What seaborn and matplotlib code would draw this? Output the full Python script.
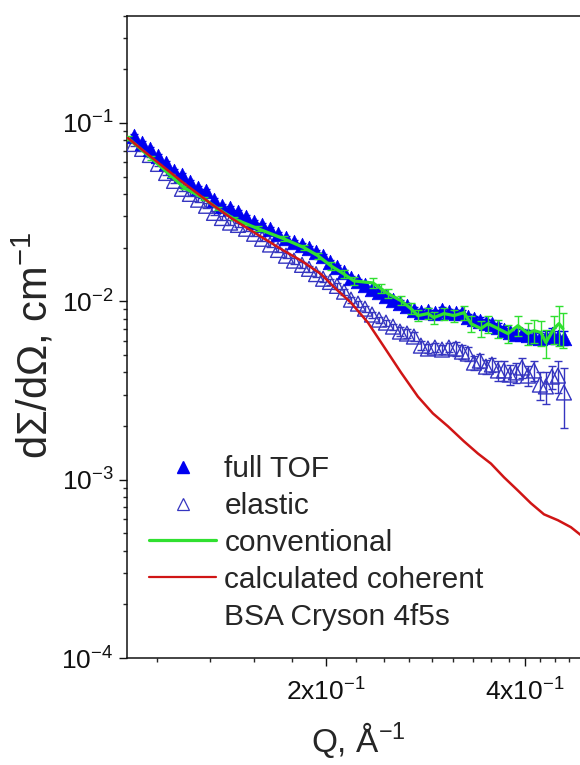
import matplotlib
matplotlib.use("Agg")
import matplotlib.pyplot as plt
import matplotlib.ticker as mticker
from matplotlib.lines import Line2D
import seaborn as sns
import pandas as pd

# ---------------- data ----------------
q_tof = [0.1025, 0.1054, 0.1083, 0.1114, 0.1146, 0.1178, 0.1211, 0.1245, 0.1281, 0.1317,
         0.1354, 0.1392, 0.1432, 0.1472, 0.1514, 0.1557, 0.1601, 0.1646, 0.1692, 0.1740,
         0.1789, 0.1840, 0.1885, 0.1932, 0.1980, 0.2028, 0.2078, 0.2130, 0.2182, 0.2236,
         0.2291, 0.2348, 0.2406, 0.2465, 0.2526, 0.2588, 0.2652, 0.2717, 0.2784, 0.2853,
         0.2923, 0.2996, 0.3069, 0.3145, 0.3212, 0.3279, 0.3349, 0.3419, 0.3492, 0.3565,
         0.3641, 0.3718, 0.3796, 0.3876, 0.3958, 0.4042, 0.4127, 0.4214, 0.4303, 0.4394,
         0.4487, 0.4582]

full_tof = [0.0845, 0.0772, 0.0715, 0.0653, 0.0596, 0.0538, 0.0511, 0.0467, 0.0433, 0.0416,
            0.0371, 0.0343, 0.0334, 0.0317, 0.0297, 0.0279, 0.0268, 0.0255, 0.0239, 0.0227,
            0.0215, 0.0208, 0.0200, 0.0190, 0.0180, 0.0167, 0.0156, 0.0146, 0.0135, 0.0130,
            0.0124, 0.01174, 0.01132, 0.01075, 0.01021, 0.00982, 0.00945, 0.00897, 0.00875, 0.00886,
            0.00863, 0.00897, 0.00875, 0.00863, 0.00863, 0.00820, 0.00800, 0.00779, 0.00759, 0.00749,
            0.00721, 0.00693, 0.00676, 0.00659, 0.00659, 0.00651, 0.00634, 0.00626, 0.00634, 0.00659,
            0.00634, 0.00626]
full_tof_err = [0.02, 0.02, 0.02, 0.02, 0.02, 0.02, 0.02, 0.02, 0.02, 0.02,
                0.02, 0.02, 0.02, 0.02, 0.02, 0.02, 0.02, 0.02, 0.02, 0.02,
                0.025, 0.025, 0.025, 0.025, 0.025, 0.025, 0.025, 0.025, 0.025, 0.025,
                0.03, 0.03, 0.03, 0.03, 0.03, 0.03, 0.03, 0.03, 0.035, 0.035,
                0.035, 0.035, 0.035, 0.04, 0.04, 0.04, 0.04, 0.045, 0.045, 0.045,
                0.05, 0.05, 0.05, 0.055, 0.055, 0.06, 0.06, 0.065, 0.07, 0.07,
                0.08, 0.09]

elastic = [0.0762, 0.0715, 0.0661, 0.0589, 0.0524, 0.0473, 0.0427, 0.0400, 0.0371, 0.0343,
           0.0313, 0.0293, 0.0276, 0.0268, 0.0255, 0.0239, 0.0224, 0.0208, 0.0194, 0.0180,
           0.0169, 0.0160, 0.0152, 0.0142, 0.01337, 0.01283, 0.0122, 0.01132, 0.01021, 0.00970,
           0.00909, 0.00842, 0.00789, 0.00759, 0.00721, 0.00676, 0.00659, 0.00634, 0.00564, 0.00543,
           0.00550, 0.00536, 0.00550, 0.00543, 0.00522, 0.00509, 0.00453, 0.00465, 0.00430, 0.00442,
           0.00409, 0.00409, 0.00388, 0.00399, 0.00425, 0.00383, 0.00409, 0.00341, 0.00333, 0.00378,
           0.00383, 0.00308]
elastic_err = [0.03, 0.03, 0.03, 0.03, 0.03, 0.03, 0.03, 0.03, 0.03, 0.03,
               0.03, 0.03, 0.03, 0.03, 0.03, 0.03, 0.03, 0.03, 0.03, 0.03,
               0.04, 0.04, 0.04, 0.04, 0.04, 0.04, 0.04, 0.04, 0.04, 0.04,
               0.04, 0.04, 0.04, 0.04, 0.04, 0.06, 0.06, 0.06, 0.06, 0.06,
               0.06, 0.06, 0.06, 0.09, 0.09, 0.09, 0.09, 0.09, 0.09, 0.09,
               0.13, 0.13, 0.13, 0.13, 0.13, 0.13, 0.13, 0.18, 0.20, 0.15,
               0.20, 0.37]

q_conv = [0.1003, 0.1087, 0.1166, 0.1220, 0.1308, 0.1373, 0.1451, 0.1579, 0.1727, 0.1852,
          0.1945, 0.2035, 0.2130, 0.2205, 0.2356, 0.2422, 0.2483, 0.2597, 0.2689, 0.2755,
          0.2853, 0.2913, 0.3017, 0.3124, 0.3234, 0.3314, 0.3431, 0.3517, 0.3641, 0.3770,
          0.3904, 0.4042, 0.4127, 0.4229, 0.4303, 0.4426, 0.4503, 0.4566]
conventional = [0.0823, 0.0636, 0.0505, 0.0433, 0.0376, 0.0330, 0.0290, 0.0255, 0.0224, 0.0200,
                0.0180, 0.0158, 0.0142, 0.0130, 0.01267, 0.01177, 0.01103, 0.01008, 0.00909, 0.00831,
                0.00853, 0.00810, 0.00853, 0.00831, 0.00863, 0.00749, 0.00703, 0.00749, 0.00703, 0.00659,
                0.00730, 0.00659, 0.00685, 0.00668, 0.00587, 0.00703, 0.00749, 0.00703]
conventional_err = [0.02, 0.02, 0.02, 0.02, 0.02, 0.02, 0.02, 0.03, 0.03, 0.03,
                    0.04, 0.05, 0.05, 0.05, 0.06, 0.06, 0.06, 0.06, 0.07, 0.07,
                    0.07, 0.08, 0.08, 0.08, 0.09, 0.10, 0.10, 0.11, 0.11, 0.12,
                    0.13, 0.14, 0.15, 0.16, 0.18, 0.18, 0.25, 0.22]

q_calc = [0.1003, 0.1087, 0.1207, 0.1340, 0.1437, 0.1595, 0.1727, 0.1834, 0.1966, 0.2070,
          0.2182, 0.2315, 0.2447, 0.2597, 0.2755, 0.2903, 0.3059, 0.3234, 0.3396, 0.3553,
          0.3719, 0.3900, 0.4084, 0.4274, 0.4487, 0.4695, 0.4862, 0.5035]
calculated = [0.0823, 0.0645, 0.0473, 0.0352, 0.0293, 0.0230, 0.0192, 0.0169, 0.0142, 0.01174,
              0.00982, 0.00759, 0.00557, 0.00399, 0.00292, 0.00235, 0.00199, 0.00164, 0.00140, 0.00123,
              0.00103, 0.000871, 0.000737, 0.000639, 0.000592, 0.000541, 0.000488, 0.000446]

x_tick_vals = [0.2, 0.4]
x_tick_labels = ["2x10$^{-1}$", "4x10$^{-1}$"]
y_tick_vals = [1e-4, 1e-3, 1e-2, 1e-1]
y_tick_labels = ["10$^{-4}$", "10$^{-3}$", "10$^{-2}$", "10$^{-1}$"]
legend_labels = ["full TOF", "elastic", "conventional", "calculated coherent", "BSA Cryson 4f5s"]

# ---------------- style ----------------
sns.set_style("ticks")
plt.rcParams["font.family"] = ["Liberation Sans", "DejaVu Sans"]
plt.rcParams["mathtext.fontset"] = "custom"
plt.rcParams["mathtext.rm"] = "Liberation Sans"
plt.rcParams["mathtext.it"] = "Liberation Sans:italic"
plt.rcParams["mathtext.bf"] = "Liberation Sans:bold"
plt.rcParams["mathtext.default"] = "regular"

C_FULL = "#0000f0"
C_EL = "#3535c0"
C_CONV = "#30e030"
C_CALC = "#d01515"

fig = plt.figure(figsize=(5.8, 7.65), dpi=100)
ax = fig.add_axes([127 / 580, 107 / 765, 462 / 580, 642.5 / 765])

df_tof = pd.DataFrame({"Q": q_tof, "full": full_tof, "elastic": elastic,
                       "full_err": [v * e for v, e in zip(full_tof, full_tof_err)],
                       "el_err": [v * e for v, e in zip(elastic, elastic_err)]})
df_conv = pd.DataFrame({"Q": q_conv, "I": conventional,
                        "err": [v * e for v, e in zip(conventional, conventional_err)]})
df_calc = pd.DataFrame({"Q": q_calc, "I": calculated})

# elastic
ax.errorbar(df_tof["Q"], df_tof["elastic"], yerr=df_tof["el_err"], fmt="none",
            ecolor=C_EL, elinewidth=1.0, capsize=3.2, capthick=1.0, zorder=2)
sns.scatterplot(data=df_tof, x="Q", y="elastic", ax=ax, marker="^", s=115,
                facecolor="none", edgecolor=C_EL, linewidth=1.0, zorder=3, legend=False)
# full TOF
ax.errorbar(df_tof["Q"], df_tof["full"], yerr=df_tof["full_err"], fmt="none",
            ecolor=C_FULL, elinewidth=1.0, capsize=3.2, capthick=1.0, zorder=4)
sns.scatterplot(data=df_tof, x="Q", y="full", ax=ax, marker="^", s=110,
                color=C_FULL, edgecolor=C_FULL, linewidth=0.5, zorder=5, legend=False)
# conventional
ax.errorbar(df_conv["Q"], df_conv["I"], yerr=df_conv["err"], fmt="none",
            ecolor=C_CONV, elinewidth=1.0, capsize=3.2, capthick=1.0, zorder=6)
sns.lineplot(data=df_conv, x="Q", y="I", ax=ax, color=C_CONV, lw=2.3, zorder=7,
             sort=False, estimator=None)
# calculated
sns.lineplot(data=df_calc, x="Q", y="I", ax=ax, color=C_CALC, lw=1.8, zorder=8,
             sort=False, estimator=None)

ax.set_xscale("log")
ax.set_yscale("log")
ax.set_xlim(0.1, 0.5)
ax.set_ylim(1e-4, 0.4)

ax.xaxis.set_major_locator(mticker.FixedLocator(x_tick_vals))
ax.xaxis.set_major_formatter(mticker.FixedFormatter(x_tick_labels))
ax.xaxis.set_minor_locator(mticker.FixedLocator([0.2 * k / 9 for k in range(5, 23) if k % 9]))
ax.xaxis.set_minor_formatter(mticker.NullFormatter())
ax.yaxis.set_major_locator(mticker.FixedLocator(y_tick_vals))
ax.yaxis.set_major_formatter(mticker.FixedFormatter(y_tick_labels))
ax.yaxis.set_minor_locator(mticker.LogLocator(base=10, subs=range(2, 10), numticks=20))
ax.yaxis.set_minor_formatter(mticker.NullFormatter())

ax.tick_params(which="major", direction="out", length=5.8, width=1.0, labelsize=19,
               top=False, right=False, colors="#111111")
ax.tick_params(axis="x", which="major", pad=9)
ax.tick_params(axis="y", which="major", pad=4)
ax.tick_params(which="minor", direction="out", length=3.0, width=1.0, top=False, right=False)
for sp in ax.spines.values():
    sp.set_linewidth(1.1)
    sp.set_color("#111111")

ax.set_xlabel("Q, Å$^{-1}$", fontsize=24, labelpad=10)
ax.set_ylabel("dΣ/dΩ, cm$^{-1}$", fontsize=30)
ax.yaxis.set_label_coords(-0.153, 0.487)

handles = [
    Line2D([], [], marker="^", ls="none", color=C_FULL, ms=9),
    Line2D([], [], marker="^", ls="none", mfc="none", mec=C_EL, mew=0.9, ms=9),
    Line2D([], [], color=C_CONV, lw=2.3),
    Line2D([], [], color=C_CALC, lw=1.6),
    Line2D([], [], color="none", lw=0),
]
leg = ax.legend(handles, legend_labels, loc="upper left",
                bbox_to_anchor=(149 / 580, (765 - 455) / 765), bbox_transform=fig.transFigure,
                frameon=False, fontsize=21.5, handlelength=2.25, handletextpad=0.27,
                labelspacing=0.3, borderpad=0, borderaxespad=0)

fig.savefig("out.png", dpi=100)
